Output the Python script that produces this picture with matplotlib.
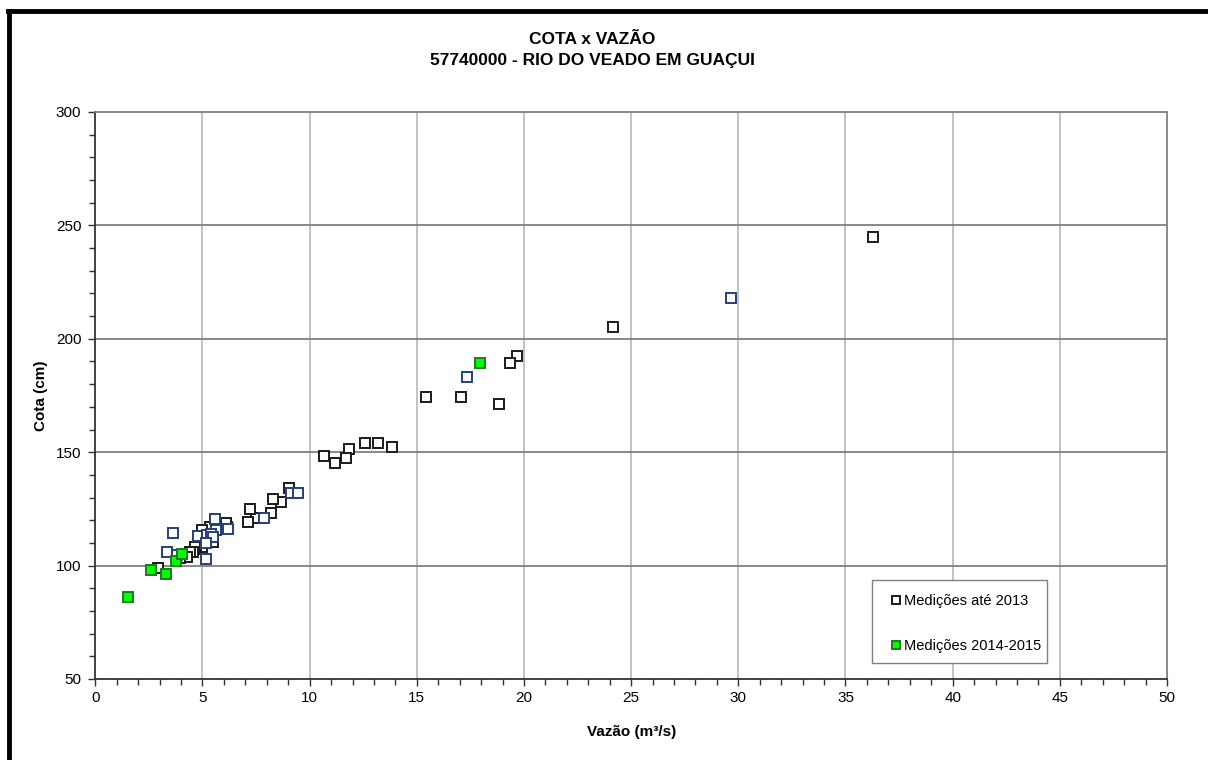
import matplotlib
matplotlib.use("Agg")
import matplotlib.pyplot as plt
from matplotlib.lines import Line2D
from matplotlib.patches import Rectangle
from matplotlib.ticker import MultipleLocator

plt.rcParams['font.family'] = ['Liberation Sans', 'DejaVu Sans']

# Medições até 2013 (black outline)
x_ate2013 = [36.3, 24.15, 19.66, 19.33, 18.82, 17.05, 15.45, 13.85, 13.17, 12.56,
             11.85, 11.68, 11.16, 10.68, 9.04, 8.68, 8.30, 8.21, 7.52, 7.22, 7.11,
             6.14, 6.08, 5.35, 5.00, 5.03, 5.16, 5.11, 5.47, 4.96, 4.91, 4.72, 4.63,
             4.54, 4.41, 4.30, 3.93, 2.93]
y_ate2013 = [245, 205.3, 192.4, 189.2, 171.4, 174.3, 174.3, 152.2, 154.2, 154.2,
             151.3, 147.4, 145.4, 148.3, 134.1, 128.2, 129.2, 123.1, 121.0, 125.1, 119.4,
             117.0, 118.6, 116.8, 115.6, 112.6, 112.6, 110.4, 110.4, 108.2, 109.8, 107.5, 108.3,
             106.0, 105.8, 103.9, 103.4, 99.1]

# Other measurements (blue outline, not in legend)
x_outras = [29.64, 17.34, 9.11, 9.44, 7.86, 5.58, 6.20, 5.62, 3.61, 4.81, 5.19,
            5.42, 5.50, 5.16, 5.18, 3.35, 3.79]
y_outras = [218.1, 183.0, 132.1, 132.1, 121.0, 120.5, 116.3, 115.7, 114.2, 113.2, 113.4,
            114.1, 112.7, 109.8, 103.0, 106.1, 104.7]

# Medições 2014-2015 (green filled)
x_2014 = [1.51, 2.58, 3.32, 3.76, 4.05, 17.93]
y_2014 = [86.3, 98.1, 96.2, 102.1, 105.2, 189.2]

x_ticks = [0, 5, 10, 15, 20, 25, 30, 35, 40, 45, 50]
y_ticks = [50, 100, 150, 200, 250, 300]

fig = plt.figure(figsize=(12.08, 7.60), dpi=100)
ax = fig.add_axes([95.3/1208, 1-679/760, (1167-95.3)/1208, (679-112)/760])

ms = 7.6
mew = 1.4
ax.plot(x_ate2013, y_ate2013, linestyle='none', marker='s', markersize=ms,
        markerfacecolor='white', markeredgecolor='#1a1a1a', markeredgewidth=mew,
        label='Medições até 2013', zorder=3)
ax.plot(x_outras, y_outras, linestyle='none', marker='s', markersize=ms,
        markerfacecolor='white', markeredgecolor='#23407a', markeredgewidth=mew,
        zorder=4)
ax.plot(x_2014, y_2014, linestyle='none', marker='s', markersize=ms,
        markerfacecolor='#00ff00', markeredgecolor='#1f7a1f', markeredgewidth=mew,
        label='Medições 2014-2015', zorder=5)

ax.set_xlim(0, 50)
ax.set_ylim(50, 300)
ax.set_xticks(x_ticks)
ax.set_yticks(y_ticks)
ax.xaxis.set_minor_locator(MultipleLocator(1))
ax.yaxis.set_minor_locator(MultipleLocator(10))
ax.tick_params(axis='both', which='major', direction='out', length=5, width=1,
               labelsize=11, color='#333333')
ax.tick_params(axis='y', which='major', pad=5)
ax.tick_params(axis='x', which='major', pad=4)
ax.tick_params(axis='both', which='minor', direction='out', length=4, width=1,
               color='#333333')

for v in x_ticks[1:-1]:
    ax.axvline(v, color='#bdbdbd', linewidth=1.3, zorder=1)
for v in y_ticks[1:-1]:
    ax.axhline(v, color='#808080', linewidth=1.3, zorder=1)

ax.spines['left'].set_color('#333333')
ax.spines['bottom'].set_color('#333333')
ax.spines['top'].set_color('#808080')
ax.spines['right'].set_color('#808080')
for s in ax.spines.values():
    s.set_linewidth(1.3)

ax.set_xlabel('Vazão (m³/s)', fontsize=11, fontweight='bold', labelpad=14)
ax.set_ylabel('Cota (cm)', fontsize=11, fontweight='bold', labelpad=6)

fig.text(592/1208, 1-40/760, 'COTA x VAZÃO', ha='center', va='center',
         fontsize=12.5, fontweight='bold')
fig.text(592/1208, 1-60/760, '57740000 - RIO DO VEADO EM GUAÇUI', ha='center',
         va='center', fontsize=12.5, fontweight='bold')

# legend box drawn manually (tight right padding as in the reference)
box = Rectangle((0.7247, 0.0282), (1047 - 872) / 1071.7, 0.1746 - 0.0282,
                transform=ax.transAxes, facecolor='white', edgecolor='#808080',
                linewidth=1.0, zorder=6)
ax.add_patch(box)
leg = ax.legend(loc='lower left', bbox_to_anchor=(0.7285, 0.023), fontsize=10.5,
                frameon=False, markerscale=0.75, handlelength=1.0,
                handletextpad=0.05, labelspacing=2.1, borderpad=0.9,
                borderaxespad=0)
leg.set_zorder(7)

fig.add_artist(Line2D([8/1208, 1.0], [1-11/760, 1-11/760], color='black',
                      linewidth=3.5, transform=fig.transFigure))
fig.add_artist(Line2D([9/1208, 9/1208], [0, 1-11/760], color='black',
                      linewidth=3.5, transform=fig.transFigure))

fig.savefig('out.png', dpi=100)
